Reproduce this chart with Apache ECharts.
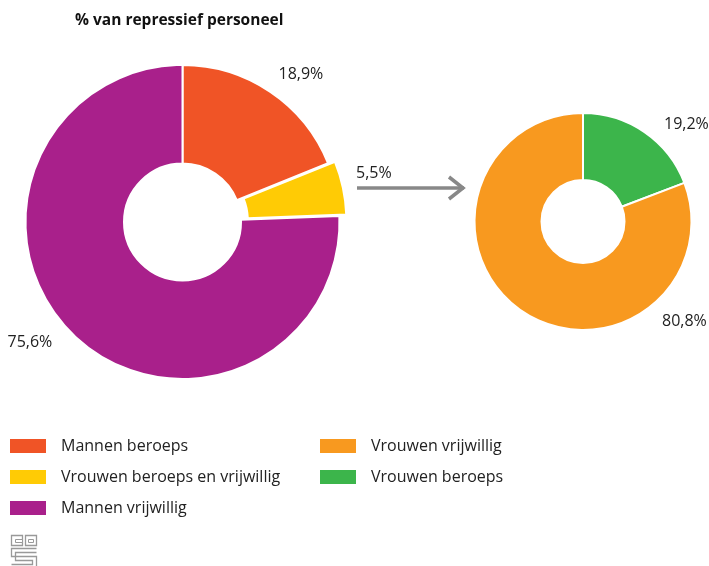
<!DOCTYPE html>
<html>
<head>
<meta charset="utf-8">
<script src="https://cdn.jsdelivr.net/npm/echarts@6/dist/echarts.min.js"></script>
<style>
  html, body { margin: 0; padding: 0; background: #fff; }
  #chart { width: 709px; height: 566px; }
</style>
</head>
<body>
<div id="chart"></div>
<script>
(function (window) {
    "use strict";

    // data
    var title = "% van repressief personeel";
    var mainNames = ["Mannen beroeps", "Vrouwen beroeps en vrijwillig", "Mannen vrijwillig"];
    var mainValues = [18.9, 5.5, 75.6];
    var mainColors = ["#f05426", "#ffcb05", "#a9208b"];
    var subNames = ["Vrouwen beroeps", "Vrouwen vrijwillig"];
    var subValues = [19.2, 80.8];
    var subColors = ["#3cb54b", "#f8991f"];

    var fmt = function (v) {
        return v.toFixed(1).replace(".", ",") + "%";
    };

    // label spots (relative to pie centre), left aligned
    var mainLabelPos = [[96, -148], [175, -50], [-175, 120]];
    var subLabelPos = [[81, -97], [79, 100]];
    // the exploded slice keeps its own label state, so shift it from the slice centroid
    var explodedLabelOffset = [79, -17];

    var mainCenter = [182.5, 222];
    var subCenter = [583, 221.5];

    var build_data = function (names, values, colors, selectedIdx) {
        return names.map(function (n, i) {
            var item = {
                name: n,
                value: values[i],
                itemStyle: { color: colors[i] }
            };
            if (i === selectedIdx) {
                item.selected = true;
                item.label = { offset: explodedLabelOffset };
                item.select = { label: { show: true, position: "inside", offset: explodedLabelOffset } };
            }
            return item;
        });
    };

    var make_layout = function (center, pos, skipIdx) {
        return function (params) {
            if (params.dataIndex === skipIdx) return {};
            var p = pos[params.dataIndex];
            return {
                x: center[0] + p[0],
                y: center[1] + p[1],
                align: "left",
                verticalAlign: "middle"
            };
        };
    };

    var labelStyle = {
        show: true,
        position: "inside",
        color: "#222",
        fontSize: 16,
        fontFamily: "Open Sans",
        overflow: "none",
        formatter: function (p) { return fmt(p.value); }
    };

    var legendText = { color: "#222", fontSize: 16, fontFamily: "Open Sans", padding: [0, 0, 0, 9] };

    var option = {
        animation: false,
        title: {
            text: title,
            left: 70,
            top: 8,
            textStyle: { fontSize: 15.5, fontWeight: "bold", color: "#111", fontFamily: "Open Sans" }
        },
        legend: [{
            orient: "vertical",
            left: 8,
            top: 437,
            padding: 0,
            itemWidth: 38,
            itemHeight: 16,
            itemGap: 13,
            icon: "rect",
            selectedMode: false,
            textStyle: legendText,
            data: mainNames
        }, {
            orient: "vertical",
            left: 318,
            top: 437,
            padding: 0,
            itemWidth: 38,
            itemHeight: 16,
            itemGap: 13,
            icon: "rect",
            selectedMode: false,
            textStyle: legendText,
            data: ["Vrouwen vrijwillig", "Vrouwen beroeps"]
        }],
        graphic: [{
            type: "polyline",
            shape: { points: [[357, 188], [464, 188]] },
            style: { stroke: "#888", lineWidth: 3.5, fill: null }
        }, {
            type: "polyline",
            shape: { points: [[449, 177], [463, 188], [449, 199]] },
            style: { stroke: "#888", lineWidth: 3.5, fill: null }
        }, {
            type: "group",
            left: 9,
            top: 533,
            children: [
                { type: "rect", shape: { x: 0, y: 0, width: 11, height: 10 }, style: { stroke: "#999", fill: null, lineWidth: 1.3 } },
                { type: "rect", shape: { x: 4, y: 4, width: 7, height: 3 }, style: { fill: "#fff", stroke: "#999", lineWidth: 1 } },
                { type: "rect", shape: { x: 14, y: 0, width: 11, height: 10 }, style: { stroke: "#999", fill: null, lineWidth: 1.3 } },
                { type: "rect", shape: { x: 17, y: 4, width: 5, height: 3 }, style: { stroke: "#999", fill: null, lineWidth: 1 } },
                { type: "polyline", shape: { points: [[25, 13], [0, 13], [0, 21], [25, 21], [25, 33], [0, 33]] }, style: { stroke: "#999", fill: null, lineWidth: 1.3 } },
                { type: "polyline", shape: { points: [[25, 17], [4, 17], [4, 25], [21, 25], [21, 29], [0, 29]] }, style: { stroke: "#999", fill: null, lineWidth: 1.3 } }
            ]
        }],
        series: [{
            name: "main",
            type: "pie",
            center: mainCenter,
            radius: [58.5, 157],
            startAngle: 90,
            clockwise: true,
            selectedMode: "single",
            selectedOffset: 7,
            silent: true,
            itemStyle: { borderColor: "#fff", borderWidth: 2 },
            label: labelStyle,
            labelLine: { show: false },
            labelLayout: make_layout(mainCenter, mainLabelPos, 1),
            data: build_data(mainNames, mainValues, mainColors, 1)
        }, {
            name: "sub",
            type: "pie",
            center: subCenter,
            radius: [41.5, 108.5],
            startAngle: 90,
            clockwise: true,
            silent: true,
            itemStyle: { borderColor: "#fff", borderWidth: 2 },
            label: labelStyle,
            labelLine: { show: false },
            labelLayout: make_layout(subCenter, subLabelPos, -1),
            data: build_data(subNames, subValues, subColors, -1)
        }]
    };

    var chart;
    var load = function () {
        chart = echarts.init(document.getElementById("chart"));
        chart.setOption(option);
    };
    window.addEventListener("load", load, false);
})(window);
</script>
</body>
</html>
